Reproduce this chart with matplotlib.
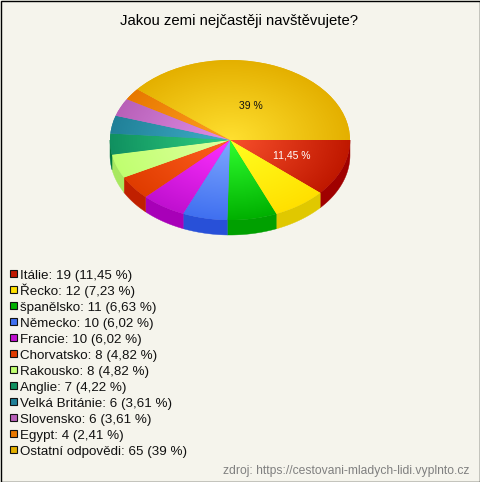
import numpy as np
import matplotlib
matplotlib.use('Agg')
import matplotlib.pyplot as plt
from matplotlib.colors import LinearSegmentedColormap
from matplotlib.patches import Rectangle, Polygon

plt.rcParams['font.family'] = ['Liberation Sans', 'DejaVu Sans']

title = 'Jakou zemi nejčastěji navštěvujete?'
source = 'zdroj: https://cestovani-mladych-lidi.vyplnto.cz'
countries = ['Itálie', 'Řecko', 'španělsko', 'Německo', 'Francie', 'Chorvatsko',
             'Rakousko', 'Anglie', 'Velká Británie', 'Slovensko', 'Egypt', 'Ostatní odpovědi']
counts = [19, 12, 11, 10, 10, 8, 8, 7, 6, 6, 4, 65]
percents = ['11,45', '7,23', '6,63', '6,02', '6,02', '4,82', '4,82', '4,22', '3,61', '3,61', '2,41', '39']
shares = [11.45, 7.23, 6.63, 6.02, 6.02, 4.82, 4.82, 4.22, 3.61, 3.61, 2.41, 39.0]

# barva stredu, barva okraje, bok
inner = ['#f8502c', '#ffff20', '#30ff30', '#7fa8ff', '#ff30ff', '#ff6020',
         '#e0ffa0', '#30d080', '#40b0c8', '#e090e8', '#ffa020', '#ffe030']
outer = ['#c01800', '#ffe000', '#00b000', '#4070f0', '#c010d0', '#e03c00',
         '#c0ff70', '#109060', '#208098', '#b860b8', '#e87800', '#e4b000']
side = ['#a00000', '#e0c800', '#00a000', '#2850d8', '#a800b8', '#c02000',
        '#a8e860', '#007840', '#106878', '#a04898', '#c86000', '#c09000']

bg = '#f5f4ec'
W, H = 480, 482
fig = plt.figure(figsize=(W / 100, H / 100), dpi=100, facecolor=bg)

# kolac: elipsa 120 x 80 px se stredem (230, 140), bok 15 px
cx, cy, rx, ry, depth = 230, 140, 120, 80, 15
ax = fig.add_axes([(cx - rx) / W, 1 - (cy + ry) / H, 2 * rx / W, 2 * ry / H])
wedges, _ = ax.pie(shares, startangle=0, counterclock=False, radius=1, colors=outer,
                   wedgeprops={'linewidth': 0})
ax.set_aspect('auto')
ax.axis('off')

# bok kolace (jen spodni polovina je videt)
dz = depth / ry
for w, c in zip(wedges, side):
    t1, t2 = w.theta1 % 360, w.theta2 % 360
    if t2 <= t1:
        t2 += 360
    lo, hi = max(t1, 180), min(t2, 360)
    if hi <= lo:
        continue
    t = np.radians(np.linspace(lo, hi, 60))
    x, y = np.cos(t), np.sin(t)
    pts = np.vstack([np.column_stack([x, y]), np.column_stack([x, y - dz])[::-1]])
    ax.add_patch(Polygon(pts, closed=True, fc=c, ec=c, lw=0.3, clip_on=False, zorder=1))

# radialni prechod v kazde vysece
yy, xx = np.mgrid[-1:1:400j, -1:1:400j]
rr = np.hypot(xx, yy)
for w, c1, c2 in zip(wedges, inner, outer):
    cmap = LinearSegmentedColormap.from_list('g', [c1, c2])
    im = ax.imshow(rr, cmap=cmap, vmin=0, vmax=1, extent=(-1, 1, -1, 1),
                   origin='lower', aspect='auto', zorder=2, interpolation='bilinear')
    im.set_clip_path(w)
ax.set_xlim(-1, 1)
ax.set_ylim(-1, 1)

# texty a legenda v pixelech
page = fig.add_axes([0, 0, 1, 1])
page.set_xlim(0, W)
page.set_ylim(H, 0)
page.axis('off')
page.text(250.5, 106, '39 %', fontsize=7.5, ha='center', va='center', color='#111111')
page.text(291.5, 156, '11,45 %', fontsize=7.5, ha='center', va='center', color='#ffffff')

page.text(239, 25, title, fontsize=10.7, ha='center', va='baseline', color='#000000')
for i, (name, n, p, c) in enumerate(zip(countries, counts, percents, outer)):
    y = 274 + i * 16
    page.add_patch(Rectangle((9.5, y - 4), 7, 7, fc=c, ec='#111111', lw=0.8))
    page.text(20, y + 5, f'{name}: {n} ({p} %)', fontsize=9.6, ha='left', va='baseline', color='#111111')
page.text(469, 474, source, fontsize=8.75, ha='right', va='baseline', color='#808080')

# tenky ramecek
page.add_patch(Rectangle((0.5, 0.5), W - 1, H - 1, fc='none', ec='#000000', lw=1))

fig.savefig('out.png', dpi=100, facecolor=bg)
